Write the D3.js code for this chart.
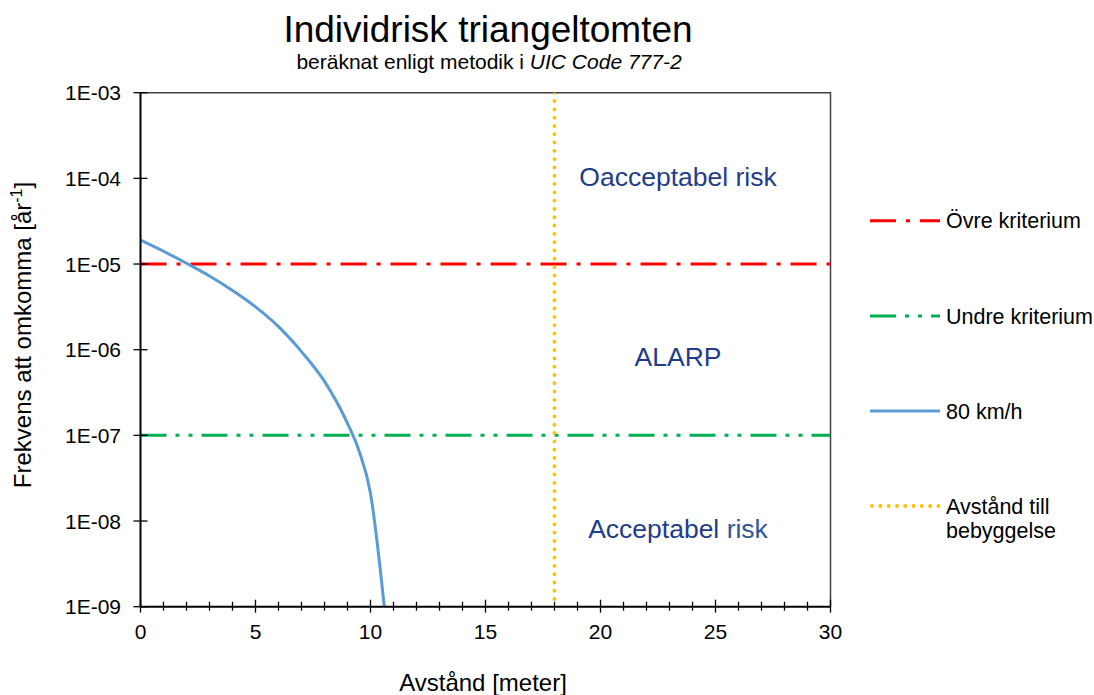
<!DOCTYPE html>
<html>
<head>
<meta charset="utf-8">
<script src="https://cdn.jsdelivr.net/npm/d3@7"></script>
<style>
  body { margin: 0; background: #fff; }
  text { font-family: "Liberation Sans", Arial, sans-serif; }
</style>
</head>
<body>
<script>
// curve 80 km/h: distance [m] and frequency [1/year]
var distance = [0, 1, 2, 3, 4, 5, 6, 7, 8, 9, 9.5, 10, 10.6];
var frequency = [1.9e-5, 1.41e-5, 1.02e-5, 7.24e-6, 4.9e-6, 3.16e-6, 1.86e-6, 9.5e-7, 4.27e-7, 1.38e-7, 6.6e-8, 2.1e-8, 1.0e-9];

var upperCriterion = 1e-5;
var lowerCriterion = 1e-7;
var buildingDistance = 18;

var xTicks = [0, 5, 10, 15, 20, 25, 30];
var xMinorTicks = d3.range(0, 31, 1);
var yTicks = [1e-3, 1e-4, 1e-5, 1e-6, 1e-7, 1e-8, 1e-9];
var yTickLabels = ["1E-03", "1E-04", "1E-05", "1E-06", "1E-07", "1E-08", "1E-09"];

var legendNames = ["Övre kriterium", "Undre kriterium", "80 km/h", "Avstånd till|bebyggelse"];

var width = 1094,
	height = 695;
var plot = {left: 140.5, right: 830.5, top: 92.7, bottom: 606.7};

var x = d3.scaleLinear([0, 30], [plot.left, plot.right]);
var y = d3.scaleLog([1e-9, 1e-3], [plot.bottom, plot.top]);

var svg = d3.select("body").append("svg")
	.attr("width", width)
	.attr("height", height);

// titles
svg.append("text")
	.attr("x", 488).attr("y", 42)
	.attr("text-anchor", "middle")
	.style("font-size", "37px")
	.text("Individrisk triangeltomten");

var sub = svg.append("text")
	.attr("x", 489).attr("y", 69)
	.attr("text-anchor", "middle")
	.style("font-size", "21px");
sub.append("tspan").text("beräknat enligt metodik i ");
sub.append("tspan").style("font-style", "italic").text("UIC Code 777-2");

// plot frame (top / right)
svg.append("path")
	.attr("d", "M" + plot.left + "," + plot.top + "H" + plot.right + "V" + plot.bottom)
	.attr("fill", "none")
	.attr("stroke", "#404040")
	.attr("stroke-width", 1.5);

var defs = svg.append("defs");
defs.append("clipPath").attr("id", "clip")
	.append("rect")
	.attr("x", plot.left).attr("y", plot.top)
	.attr("width", plot.right - plot.left).attr("height", plot.bottom - plot.top);

var g = svg.append("g").attr("clip-path", "url(#clip)");

// criteria lines
g.append("line")
	.attr("x1", x(0)).attr("x2", x(30))
	.attr("y1", y(upperCriterion)).attr("y2", y(upperCriterion))
	.attr("stroke", "#ff0000").attr("stroke-width", 3)
	.attr("stroke-dasharray", "26,10,4,10");

g.append("line")
	.attr("x1", x(0)).attr("x2", x(30))
	.attr("y1", y(lowerCriterion)).attr("y2", y(lowerCriterion))
	.attr("stroke", "#00b050").attr("stroke-width", 3)
	.attr("stroke-dasharray", "26,9,4,9,4,9");

// distance to buildings
g.append("line")
	.attr("x1", x(buildingDistance)).attr("x2", x(buildingDistance))
	.attr("y1", y(1e-3)).attr("y2", y(1e-9))
	.attr("stroke", "#ffc000").attr("stroke-width", 3.8)
	.attr("stroke-linecap", "round")
	.attr("stroke-dasharray", "0.1,8.2");

// 80 km/h
var line = d3.line()
	.x(function(d, i) { return x(distance[i]); })
	.y(function(d) { return y(d); })
	.curve(d3.curveMonotoneX);

g.append("path")
	.datum(frequency)
	.attr("d", line)
	.attr("fill", "none")
	.attr("stroke", "#5b9bd5")
	.attr("stroke-width", 3);

// region labels
function regionLabel(yy, parts) {
	var tx = svg.append("text")
		.attr("x", 678).attr("y", yy)
		.attr("text-anchor", "middle")
		.style("font-size", "26.5px");
	parts.forEach(function(p) {
		tx.append("tspan").attr("fill", p[1]).text(p[0]);
	});
}
regionLabel(186, [["Oacceptabel risk", "#1f3d8a"]]);
regionLabel(366, [["ALARP", "#1f3d8a"]]);
regionLabel(538, [["Acceptabel ", "#1f3d8a"], ["risk", "#2f5597"]]);

// x axis
svg.append("line")
	.attr("x1", plot.left).attr("x2", plot.right)
	.attr("y1", plot.bottom).attr("y2", plot.bottom)
	.attr("stroke", "#000").attr("stroke-width", 2);

svg.selectAll(".xminor")
	.data(xMinorTicks)
	.enter().append("line")
	.attr("x1", function(d) { return x(d); })
	.attr("x2", function(d) { return x(d); })
	.attr("y1", function(d) { return plot.bottom - (d % 5 === 0 ? 7 : 5); })
	.attr("y2", function(d) { return plot.bottom + (d % 5 === 0 ? 6 : 4); })
	.attr("stroke", "#000").attr("stroke-width", 1.3);

svg.selectAll(".xlabel")
	.data(xTicks)
	.enter().append("text")
	.attr("x", function(d) { return x(d); })
	.attr("y", 639)
	.attr("text-anchor", "middle")
	.style("font-size", "21px")
	.text(function(d) { return d; });

svg.append("text")
	.attr("x", 483).attr("y", 691)
	.attr("text-anchor", "middle")
	.style("font-size", "24px")
	.text("Avstånd [meter]");

// y axis
svg.append("line")
	.attr("x1", plot.left).attr("x2", plot.left)
	.attr("y1", plot.top).attr("y2", plot.bottom)
	.attr("stroke", "#000").attr("stroke-width", 2);

svg.selectAll(".ytick")
	.data(yTicks)
	.enter().append("line")
	.attr("x1", plot.left - 7).attr("x2", plot.left + 7)
	.attr("y1", function(d) { return y(d); })
	.attr("y2", function(d) { return y(d); })
	.attr("stroke", "#000").attr("stroke-width", 1.3);

svg.selectAll(".ylabel")
	.data(yTicks)
	.enter().append("text")
	.attr("x", 121)
	.attr("y", function(d) { return y(d) + 7.5; })
	.attr("text-anchor", "end")
	.style("font-size", "21px")
	.text(function(d, i) { return yTickLabels[i]; });

var yt = svg.append("text")
	.attr("transform", "translate(31,335) rotate(-90)")
	.attr("text-anchor", "middle")
	.style("font-size", "24px");
yt.append("tspan").text("Frekvens att omkomma [år");
yt.append("tspan").attr("dy", -9).style("font-size", "16px").text("-1");
yt.append("tspan").attr("dy", 9).text("]");

// legend
var legendY = [220.7, 316, 411, 506];
var legendStyles = [
	{color: "#ff0000", dash: "26,10,4,10", cap: "butt", w: 3},
	{color: "#00b050", dash: "26,9,4,9,4,9", cap: "butt", w: 3},
	{color: "#5b9bd5", dash: null, cap: "butt", w: 3},
	{color: "#ffc000", dash: "0.1,8.2", cap: "round", w: 3.8}
];

var leg = svg.selectAll(".legend")
	.data(legendNames)
	.enter().append("g")
	.attr("transform", function(d, i) { return "translate(0," + legendY[i] + ")"; });

leg.append("line")
	.attr("x1", function(d, i) { return i == 3 ? 872 : 870; }).attr("x2", 940)
	.attr("stroke", function(d, i) { return legendStyles[i].color; })
	.attr("stroke-width", function(d, i) { return legendStyles[i].w; })
	.attr("stroke-linecap", function(d, i) { return legendStyles[i].cap; })
	.attr("stroke-dasharray", function(d, i) { return legendStyles[i].dash; });

leg.append("text")
	.attr("x", 946)
	.attr("y", 7.5)
	.style("font-size", "21.5px")
	.each(function(d) {
		var t = d3.select(this);
		d.split("|").forEach(function(s, j) {
			t.append("tspan").attr("x", 946).attr("dy", j ? 24 : 0).text(s);
		});
	});
</script>
</body>
</html>
